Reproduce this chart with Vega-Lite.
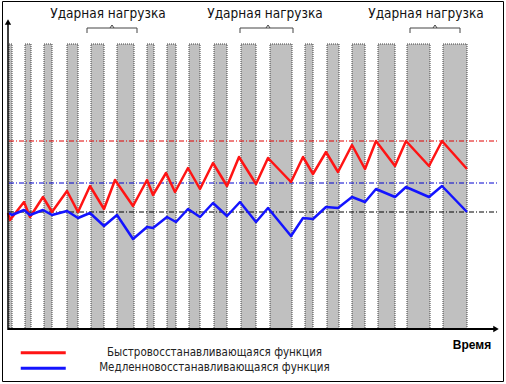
{
  "$schema": "https://vega.github.io/schema/vega-lite/v6.json",
  "width": 501,
  "height": 380,
  "padding": {"left": 2, "top": 1, "right": 3, "bottom": 3},
  "autosize": {"type": "none"},
  "background": "white",
  "config": {"view": {"stroke": "black", "strokeWidth": 1}},
  "datasets": {
    "one": [{}],
    "bars": [
      {"start": 0, "end": 3}, {"start": 16, "end": 22}, {"start": 35, "end": 43},
      {"start": 58, "end": 69}, {"start": 82, "end": 95}, {"start": 108, "end": 125},
      {"start": 138, "end": 145}, {"start": 158, "end": 167}, {"start": 180, "end": 191},
      {"start": 205, "end": 218}, {"start": 232, "end": 247}, {"start": 261, "end": 283},
      {"start": 296, "end": 304}, {"start": 318, "end": 330}, {"start": 343, "end": 356},
      {"start": 369, "end": 386}, {"start": 398, "end": 421}, {"start": 434, "end": 458}
    ],
    "notes": [
      {"label": "Ударная нагрузка", "textT": 99, "from": 78, "mid": 103, "to": 128},
      {"label": "Ударная нагрузка", "textT": 256, "from": 231, "mid": 259, "to": 284},
      {"label": "Ударная нагрузка", "textT": 417, "from": 401, "mid": 426, "to": 451}
    ],
    "series": [
      {"s": "Быстровосстанавливающаяся функция", "t": -1, "v": 116},
      {"s": "Быстровосстанавливающаяся функция", "t": 1, "v": 109},
      {"s": "Быстровосстанавливающаяся функция", "t": 15, "v": 127},
      {"s": "Быстровосстанавливающаяся функция", "t": 21, "v": 112},
      {"s": "Быстровосстанавливающаяся функция", "t": 34, "v": 132},
      {"s": "Быстровосстанавливающаяся функция", "t": 43, "v": 117},
      {"s": "Быстровосстанавливающаяся функция", "t": 58, "v": 138},
      {"s": "Быстровосстанавливающаяся функция", "t": 69, "v": 117},
      {"s": "Быстровосстанавливающаяся функция", "t": 81, "v": 143},
      {"s": "Быстровосстанавливающаяся функция", "t": 95, "v": 120},
      {"s": "Быстровосстанавливающаяся функция", "t": 106, "v": 149},
      {"s": "Быстровосстанавливающаяся функция", "t": 124, "v": 123},
      {"s": "Быстровосстанавливающаяся функция", "t": 138, "v": 149},
      {"s": "Быстровосстанавливающаяся функция", "t": 144, "v": 134},
      {"s": "Быстровосстанавливающаяся функция", "t": 157, "v": 156},
      {"s": "Быстровосстанавливающаяся функция", "t": 166, "v": 137},
      {"s": "Быстровосстанавливающаяся функция", "t": 179, "v": 161},
      {"s": "Быстровосстанавливающаяся функция", "t": 191, "v": 140},
      {"s": "Быстровосстанавливающаяся функция", "t": 204, "v": 166},
      {"s": "Быстровосстанавливающаяся функция", "t": 218, "v": 143},
      {"s": "Быстровосстанавливающаяся функция", "t": 230, "v": 172},
      {"s": "Быстровосстанавливающаяся функция", "t": 247, "v": 145},
      {"s": "Быстровосстанавливающаяся функция", "t": 259, "v": 171},
      {"s": "Быстровосстанавливающаяся функция", "t": 282, "v": 147},
      {"s": "Быстровосстанавливающаяся функция", "t": 294, "v": 172},
      {"s": "Быстровосстанавливающаяся функция", "t": 304, "v": 155},
      {"s": "Быстровосстанавливающаяся функция", "t": 317, "v": 177},
      {"s": "Быстровосстанавливающаяся функция", "t": 329, "v": 157},
      {"s": "Быстровосстанавливающаяся функция", "t": 343, "v": 184},
      {"s": "Быстровосстанавливающаяся функция", "t": 356, "v": 160},
      {"s": "Быстровосстанавливающаяся функция", "t": 367, "v": 188},
      {"s": "Быстровосстанавливающаяся функция", "t": 386, "v": 163},
      {"s": "Быстровосстанавливающаяся функция", "t": 397, "v": 188},
      {"s": "Быстровосстанавливающаяся функция", "t": 420, "v": 163},
      {"s": "Быстровосстанавливающаяся функция", "t": 433, "v": 188},
      {"s": "Быстровосстанавливающаяся функция", "t": 458, "v": 160},
      {"s": "Медленновосстанавливающаяся функция", "t": 0, "v": 116},
      {"s": "Медленновосстанавливающаяся функция", "t": 3, "v": 114},
      {"s": "Медленновосстанавливающаяся функция", "t": 15, "v": 119},
      {"s": "Медленновосстанавливающаяся функция", "t": 21, "v": 114},
      {"s": "Медленновосстанавливающаяся функция", "t": 34, "v": 119},
      {"s": "Медленновосстанавливающаяся функция", "t": 43, "v": 114},
      {"s": "Медленновосстанавливающаяся функция", "t": 58, "v": 118},
      {"s": "Медленновосстанавливающаяся функция", "t": 69, "v": 111},
      {"s": "Медленновосстанавливающаяся функция", "t": 81, "v": 116},
      {"s": "Медленновосстанавливающаяся функция", "t": 95, "v": 103},
      {"s": "Медленновосстанавливающаяся функция", "t": 108, "v": 114},
      {"s": "Медленновосстанавливающаяся функция", "t": 124, "v": 90},
      {"s": "Медленновосстанавливающаяся функция", "t": 138, "v": 102},
      {"s": "Медленновосстанавливающаяся функция", "t": 144, "v": 101},
      {"s": "Медленновосстанавливающаяся функция", "t": 158, "v": 112},
      {"s": "Медленновосстанавливающаяся функция", "t": 167, "v": 107},
      {"s": "Медленновосстанавливающаяся функция", "t": 179, "v": 120},
      {"s": "Медленновосстанавливающаяся функция", "t": 191, "v": 112},
      {"s": "Медленновосстанавливающаяся функция", "t": 204, "v": 126},
      {"s": "Медленновосстанавливающаяся функция", "t": 218, "v": 113},
      {"s": "Медленновосстанавливающаяся функция", "t": 231, "v": 127},
      {"s": "Медленновосстанавливающаяся функция", "t": 247, "v": 107},
      {"s": "Медленновосстанавливающаяся функция", "t": 259, "v": 121},
      {"s": "Медленновосстанавливающаяся функция", "t": 282, "v": 93},
      {"s": "Медленновосстанавливающаяся функция", "t": 294, "v": 111},
      {"s": "Медленновосстанавливающаяся функция", "t": 304, "v": 110},
      {"s": "Медленновосстанавливающаяся функция", "t": 317, "v": 122},
      {"s": "Медленновосстанавливающаяся функция", "t": 329, "v": 121},
      {"s": "Медленновосстанавливающаяся функция", "t": 343, "v": 132},
      {"s": "Медленновосстанавливающаяся функция", "t": 356, "v": 127},
      {"s": "Медленновосстанавливающаяся функция", "t": 367, "v": 140},
      {"s": "Медленновосстанавливающаяся функция", "t": 386, "v": 132},
      {"s": "Медленновосстанавливающаяся функция", "t": 397, "v": 142},
      {"s": "Медленновосстанавливающаяся функция", "t": 420, "v": 132},
      {"s": "Медленновосстанавливающаяся функция", "t": 433, "v": 143},
      {"s": "Медленновосстанавливающаяся функция", "t": 458, "v": 117}
    ]
  },
  "layer": [
    {
      "data": {"name": "bars"},
      "mark": {"type": "rect", "fill": "#c0c0c0", "stroke": "#404040", "strokeWidth": 1, "strokeDash": [1, 1]},
      "encoding": {
        "x": {"field": "start", "type": "quantitative", "scale": {"domain": [-7, 494], "nice": false, "zero": false}, "axis": null},
        "x2": {"field": "end"},
        "y": {"datum": 0, "type": "quantitative", "scale": {"domain": [-52, 328], "nice": false, "zero": false}, "axis": null},
        "y2": {"datum": 285}
      }
    },
    {
      "data": {"name": "one"},
      "mark": {"type": "rule", "color": "#e00000", "strokeWidth": 1, "strokeDash": [5, 2, 1, 2]},
      "encoding": {"x": {"datum": 0}, "x2": {"datum": 490}, "y": {"datum": 188}}
    },
    {
      "data": {"name": "one"},
      "mark": {"type": "rule", "color": "#0000d0", "strokeWidth": 1, "strokeDash": [5, 2, 1, 2]},
      "encoding": {"x": {"datum": 0}, "x2": {"datum": 490}, "y": {"datum": 146}}
    },
    {
      "data": {"name": "one"},
      "mark": {"type": "rule", "color": "#000000", "strokeWidth": 1, "strokeDash": [5, 2, 1, 2]},
      "encoding": {"x": {"datum": 0}, "x2": {"datum": 490}, "y": {"datum": 117}}
    },
    {
      "data": {"name": "series"},
      "mark": {"type": "line", "strokeWidth": 2.5, "strokeJoin": "round"},
      "encoding": {
        "x": {"field": "t", "type": "quantitative"},
        "y": {"field": "v", "type": "quantitative"},
        "color": {
          "field": "s",
          "type": "nominal",
          "scale": {"domain": ["Быстровосстанавливающаяся функция", "Медленновосстанавливающаяся функция"], "range": ["#ff1414", "#1414ff"]},
          "legend": {
            "orient": "none", "legendX": 35.5, "legendY": 346, "title": null,
            "symbolType": "M-10,0H10", "symbolSize": 20.25, "symbolStrokeWidth": 3,
            "labelFont": "DejaVu Sans Condensed", "labelFontSize": 11.5, "labelColor": "#222222",
            "labelAlign": "center", "labelOffset": 165.5, "labelLimit": 0, "rowPadding": 2.5
          }
        }
      }
    },
    {
      "data": {"name": "notes"},
      "mark": {"type": "rule", "color": "#444444", "strokeWidth": 1},
      "encoding": {"x": {"field": "from", "type": "quantitative"}, "x2": {"field": "to"}, "y": {"datum": 301}}
    },
    {
      "data": {"name": "notes"},
      "mark": {"type": "rule", "color": "#444444", "strokeWidth": 1},
      "encoding": {"x": {"field": "from", "type": "quantitative"}, "y": {"datum": 296}, "y2": {"datum": 301}}
    },
    {
      "data": {"name": "notes"},
      "mark": {"type": "rule", "color": "#444444", "strokeWidth": 1},
      "encoding": {"x": {"field": "to", "type": "quantitative"}, "y": {"datum": 296}, "y2": {"datum": 301}}
    },
    {
      "data": {"name": "notes"},
      "mark": {"type": "point", "shape": "M-1,0.75L0,-0.75L1,0.75", "filled": false, "stroke": "#444444", "strokeWidth": 1, "size": 16, "opacity": 1},
      "encoding": {"x": {"field": "mid", "type": "quantitative"}, "y": {"datum": 302.5}}
    },
    {
      "data": {"name": "notes"},
      "mark": {"type": "text", "font": "DejaVu Sans Condensed", "fontSize": 13.5, "color": "#111111", "align": "center", "baseline": "alphabetic"},
      "encoding": {"x": {"field": "textT", "type": "quantitative"}, "y": {"datum": 311}, "text": {"field": "label"}}
    },
    {
      "data": {"name": "one"},
      "mark": {"type": "rule", "color": "black", "strokeWidth": 2},
      "encoding": {"x": {"datum": -1}, "x2": {"datum": 485}, "y": {"datum": 0}}
    },
    {
      "data": {"name": "one"},
      "mark": {"type": "point", "shape": "triangle-right", "filled": true, "color": "black", "size": 40, "opacity": 1},
      "encoding": {"x": {"datum": 487}, "y": {"datum": 0}}
    },
    {
      "data": {"name": "one"},
      "mark": {"type": "rule", "color": "black", "strokeWidth": 1.5},
      "encoding": {"x": {"datum": -1}, "y": {"datum": -1}, "y2": {"datum": 305}}
    },
    {
      "data": {"name": "one"},
      "mark": {"type": "point", "shape": "triangle-up", "filled": true, "color": "black", "size": 40, "opacity": 1},
      "encoding": {"x": {"datum": -1}, "y": {"datum": 307}}
    },
    {
      "data": {"name": "one"},
      "mark": {"type": "text", "font": "Liberation Sans", "fontSize": 12, "fontWeight": "bold", "color": "black", "align": "center", "baseline": "alphabetic"},
      "encoding": {"x": {"datum": 463}, "y": {"datum": -20}, "text": {"value": "Время"}}
    }
  ]
}
